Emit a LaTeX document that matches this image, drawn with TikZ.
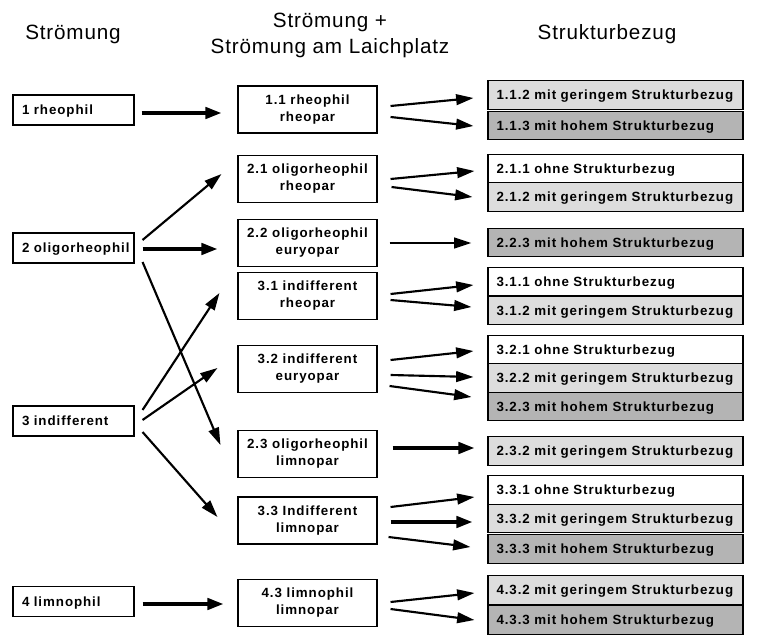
\documentclass[tikz,border=0pt]{standalone}
\usepackage{fontspec}
\setmainfont{Liberation Sans}
\newfontfamily\boxfont[LetterSpace=7.0]{Liberation Sans}
\newfontfamily\headfont[LetterSpace=4.0]{Liberation Sans}
\usetikzlibrary{arrows.meta,calc}
\definecolor{lightg}{RGB}{221,221,221}
\definecolor{darkg}{RGB}{180,180,180}
\tikzset{
  base/.style={draw=black, line width=0.8pt, inner ysep=0pt,
    font=\boxfont\bfseries\fontsize{10}{12.75}\selectfont},
  oneline/.style={base, text height=7.2pt, text depth=0pt},
  leftbox/.style={oneline, text width=77.25pt, inner xsep=6.75pt, minimum height=22.5pt, align=left},
  midbox/.style={base, minimum width=104.25pt, minimum height=35.25pt, align=center, inner xsep=0pt,
    execute at begin node={\rule{0pt}{10.3pt}}},
  rightbox/.style={oneline, text width=178.5pt, inner xsep=6.375pt, minimum height=21.4pt, align=left},
  none/.style={rightbox, fill=white},
  low/.style={rightbox, fill=lightg},
  high/.style={rightbox, fill=darkg},
  head/.style={font=\headfont\fontsize{15.5}{18}\selectfont, anchor=base, inner sep=0pt},
  arr/.style={line width=1.6pt, -{Triangle[length=13pt,width=8pt]}},
  arrthick/.style={line width=2.6pt, -{Triangle[length=12pt,width=8.5pt]}}
}
\begin{document}
\begin{tikzpicture}[x=0.75pt,y=-0.75pt]
\useasboundingbox (0,0) rectangle (769,639);
% headers
\node[head] (h1) at (73,40) {Strömung};
\node[head] (h2a) at (330,27) {Strömung +};
\node[head] (h2b) at (330,53) {Strömung am Laichplatz};
\node[head] (h3) at (607,40) {Strukturbezug};
% left
\node[leftbox] (L1) at (73.5,110) {\mbox{1 rheophil}};
\node[leftbox] (L2) at (73.5,248) {\mbox{2 oligorheophil}};
\node[leftbox] (L3) at (73.5,421) {\mbox{3 indifferent}};
\node[leftbox] (L4) at (73.5,601.5) {\mbox{4 limnophil}};
% middle
\node[midbox] (M11) at (307.5,109.5) {1.1 rheophil\\rheopar};
\node[midbox] (M21) at (307.5,179) {2.1 oligorheophil\\rheopar};
\node[midbox] (M22) at (307.5,243) {2.2 oligorheophil\\euryopar};
\node[midbox] (M31) at (307.5,296) {3.1 indifferent\\rheopar};
\node[midbox] (M32) at (307.5,369) {3.2 indifferent\\euryopar};
\node[midbox] (M23) at (307.5,454) {2.3 oligorheophil\\limnopar};
\node[midbox] (M33) at (307.5,520.5) {3.3 Indifferent\\limnopar};
\node[midbox] (M43) at (307.5,603) {4.3 limnophil\\limnopar};
% right
\node[low]  (R112) at (615.5,95)    {1.1.2 mit geringem Strukturbezug};
\node[high] (R113) at (615.5,125.5) {1.1.3 mit hohem Strukturbezug};
\node[none] (R211) at (615.5,169)   {2.1.1 ohne Strukturbezug};
\node[low]  (R212) at (615.5,197)   {2.1.2 mit geringem Strukturbezug};
\node[high] (R223) at (615.5,242.5) {2.2.3 mit hohem Strukturbezug};
\node[none] (R311) at (615.5,281.5) {3.1.1 ohne Strukturbezug};
\node[low]  (R312) at (615.5,310.5) {3.1.2 mit geringem Strukturbezug};
\node[none] (R321) at (615.5,350)   {3.2.1 ohne Strukturbezug};
\node[low]  (R322) at (615.5,378)   {3.2.2 mit geringem Strukturbezug};
\node[high] (R323) at (615.5,406.5) {3.2.3 mit hohem Strukturbezug};
\node[low]  (R232) at (615.5,451)   {2.3.2 mit geringem Strukturbezug};
\node[none] (R331) at (615.5,490)   {3.3.1 ohne Strukturbezug};
\node[low]  (R332) at (615.5,518.5) {3.3.2 mit geringem Strukturbezug};
\node[high] (R333) at (615.5,549)   {3.3.3 mit hohem Strukturbezug};
\node[low]  (R432) at (615.5,590)   {4.3.2 mit geringem Strukturbezug};
\node[high] (R433) at (615.5,620)   {4.3.3 mit hohem Strukturbezug};
% arrows left -> middle
\draw[arrthick] ($(L1.east)+(7,3)$) -- ($(M11.west)+(-16,3.5)$);
\draw[arr] ($(L2.east)+(8,-8)$) -- ($(M21.west)+(-16,-5)$);
\draw[arrthick] ($(L2.east)+(8,1)$) -- ($(M22.west)+(-20,6)$);
\draw[arr] ($(L2.east)+(8,14)$) -- ($(M23.west)+(-17,-9)$);
\draw[arr] ($(L3.east)+(8,-11)$) -- ($(M31.west)+(-18,-3)$);
\draw[arr] ($(L3.east)+(8,-1)$) -- ($(M32.west)+(-20,-1)$);
\draw[arr] ($(L3.east)+(8,11)$) -- ($(M33.west)+(-20,-3.5)$);
\draw[arrthick] ($(L4.east)+(8,2.5)$) -- ($(M43.west)+(-14,1)$);
% arrows middle -> right
\draw[arr] ($(M11.east)+(13,-3.5)$) -- ($(R112.west)+(-14,3)$);
\draw[arr] ($(M11.east)+(13,7.5)$) -- ($(R113.west)+(-14,0.5)$);
\draw[arr] ($(M21.east)+(13,0)$) -- ($(R211.west)+(-13,2)$);
\draw[arr] ($(M21.east)+(14,8)$) -- ($(R212.west)+(-15,0)$);
\draw[arr] ($(M22.east)+(12,0)$) -- ($(R223.west)+(-16,0.5)$);
\draw[arr] ($(M31.east)+(13,-2)$) -- ($(R311.west)+(-14,3.5)$);
\draw[arr] ($(M31.east)+(13,4)$) -- ($(R312.west)+(-16,-3.5)$);
\draw[arr] ($(M32.east)+(13,-9)$) -- ($(R321.west)+(-14,1)$);
\draw[arr] ($(M32.east)+(13,6)$) -- ($(R322.west)+(-14,-1)$);
\draw[arr] ($(M32.east)+(12,17)$) -- ($(R323.west)+(-16,-9.5)$);
\draw[arrthick] ($(M23.east)+(15,-6)$) -- ($(R232.west)+(-13,-3)$);
\draw[arr] ($(M33.east)+(13,-13.5)$) -- ($(R331.west)+(-13,7)$);
\draw[arrthick] ($(M33.east)+(13,1.5)$) -- ($(R332.west)+(-15,3.5)$);
\draw[arr] ($(M33.east)+(11,16.5)$) -- ($(R333.west)+(-17,-2)$);
\draw[arr] ($(M43.east)+(13,-1)$) -- ($(R432.west)+(-13,3)$);
\draw[arr] ($(M43.east)+(13,6)$) -- ($(R433.west)+(-13,0)$);
\end{tikzpicture}
\end{document}
